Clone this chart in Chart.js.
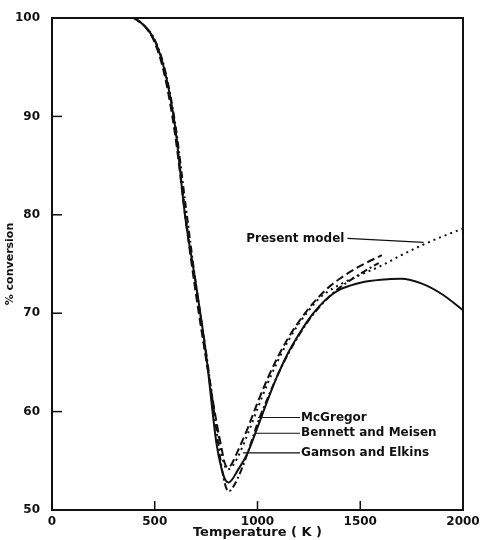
<!DOCTYPE html>
<html>
<head>
<meta charset="utf-8">
<script src="https://cdn.jsdelivr.net/npm/chart.js@4.4.1/dist/chart.umd.min.js"></script>
<style>
html, body { margin: 0; padding: 0; background: #fff; }
#wrap { width: 481px; height: 540px; position: relative; }
</style>
</head>
<body>
<div id="wrap"><canvas id="convChart"></canvas></div>
<script>
// temperature (K) and % conversion
const presentT = [400, 450, 500, 550, 600, 650, 700, 750, 800, 825, 840, 855, 875, 900, 950, 1000, 1050, 1100, 1150, 1200, 1250, 1300, 1350, 1400, 1500, 1600, 1700, 1800, 1900, 2000];
const presentY = [100, 99.2, 97.6, 94.3, 88.5, 80.0, 72.3, 65.5, 58.8, 55.8, 54.5, 54.1, 54.4, 55.2, 57.6, 60.3, 62.9, 65.2, 67.2, 68.9, 70.3, 71.5, 72.3, 72.9, 73.9, 74.8, 75.9, 76.9, 77.8, 78.6];

const mcgregorT = [400, 450, 500, 550, 600, 650, 700, 750, 800, 825, 845, 860, 880, 920, 960, 1000, 1050, 1100, 1150, 1200, 1250, 1300, 1350, 1400, 1500, 1590];
const mcgregorY = [100, 99.2, 97.8, 94.7, 89.2, 81.0, 73.0, 66.0, 58.2, 54.4, 52.4, 51.9, 52.3, 54.0, 56.3, 58.8, 61.4, 63.8, 65.9, 67.7, 69.3, 70.6, 71.7, 72.6, 74.0, 75.1];

const bennettT = [400, 450, 500, 550, 600, 650, 700, 750, 800, 825, 845, 860, 880, 900, 950, 1000, 1050, 1100, 1150, 1200, 1250, 1300, 1350, 1400, 1450, 1500, 1600, 1700, 1800, 1900, 2000];
const bennettY = [100, 99.2, 97.7, 94.5, 88.8, 79.5, 73.0, 65.8, 56.8, 54.2, 53.0, 52.8, 53.2, 53.9, 55.7, 58.4, 61.2, 63.8, 66.0, 67.8, 69.4, 70.7, 71.7, 72.4, 72.8, 73.1, 73.4, 73.5, 73.0, 71.9, 70.3];

const gamsonT = [400, 450, 500, 550, 600, 650, 700, 750, 800, 825, 840, 855, 872, 900, 950, 1000, 1050, 1100, 1150, 1200, 1250, 1300, 1350, 1400, 1500, 1605];
const gamsonY = [100, 99.2, 97.5, 94.0, 88.0, 79.6, 72.0, 65.3, 59.0, 56.3, 54.8, 54.3, 54.6, 55.8, 58.2, 60.9, 63.4, 65.6, 67.5, 69.1, 70.5, 71.7, 72.7, 73.5, 74.8, 75.9];

const seriesNames = ['Present model', 'McGregor', 'Bennett and Meisen', 'Gamson and Elkins'];
const xTicks = [0, 500, 1000, 1500, 2000];
const yTicks = [50, 60, 70, 80, 90, 100];

// callout labels: text start (K, %) and pointer end on the curve
const calloutText = ['Present model', 'McGregor', 'Bennett and Meisen', 'Gamson and Elkins'];
const calloutAt = [[945, 77.6], [1212, 59.4], [1212, 57.8], [1212, 55.8]];
const calloutTo = [[1808, 77.2], [1002, 59.4], [988, 57.8], [929, 55.8]];

function pts(t, v) {
    return t.map((k, i) => ({ x: k, y: v[i] }));
}

const FONT = 'DejaVu Sans';

const framePlugin = {
    id: 'frame',
    afterDatasetsDraw(chart) {
        const ctx = chart.ctx;
        const a = chart.chartArea;
        const xs = chart.scales.x;
        const ys = chart.scales.y;
        ctx.save();
        ctx.strokeStyle = '#111';
        ctx.lineWidth = 2;
        ctx.strokeRect(a.left, a.top, a.right - a.left, a.bottom - a.top);

        // inward tick marks
        ctx.lineWidth = 1.5;
        xTicks.slice(1, -1).forEach(v => {
            const px = xs.getPixelForValue(v);
            ctx.beginPath();
            ctx.moveTo(px, a.bottom);
            ctx.lineTo(px, a.bottom - 9);
            ctx.stroke();
        });
        yTicks.slice(1, -1).forEach(v => {
            const py = ys.getPixelForValue(v);
            ctx.beginPath();
            ctx.moveTo(a.left, py);
            ctx.lineTo(a.left + 10, py);
            ctx.stroke();
        });

        // callouts
        ctx.font = 'bold 12px "' + FONT + '"';
        ctx.fillStyle = '#111';
        ctx.textBaseline = 'middle';
        ctx.lineWidth = 1.2;
        calloutText.forEach((txt, i) => {
            const tx = xs.getPixelForValue(calloutAt[i][0]);
            const ty = ys.getPixelForValue(calloutAt[i][1]);
            const ex = xs.getPixelForValue(calloutTo[i][0]);
            const ey = ys.getPixelForValue(calloutTo[i][1]);
            const w = ctx.measureText(txt).width;
            ctx.fillText(txt, tx, ty);
            ctx.beginPath();
            if (ex > tx) {
                ctx.moveTo(tx + w + 3, ty);
            } else {
                ctx.moveTo(tx - 1, ty);
            }
            ctx.lineTo(ex, ey);
            ctx.stroke();
        });
        ctx.restore();
    }
};

const common = {
    borderColor: '#111',
    pointRadius: 0,
    fill: false,
    cubicInterpolationMode: 'monotone'
};

new Chart(document.getElementById('convChart'), {
    type: 'line',
    data: {
        datasets: [
            Object.assign({ label: seriesNames[0], data: pts(presentT, presentY), borderWidth: 2, borderDash: [2, 4] }, common),
            Object.assign({ label: seriesNames[1], data: pts(mcgregorT, mcgregorY), borderWidth: 2, borderDash: [7, 3, 2, 3] }, common),
            Object.assign({ label: seriesNames[2], data: pts(bennettT, bennettY), borderWidth: 2 }, common),
            Object.assign({ label: seriesNames[3], data: pts(gamsonT, gamsonY), borderWidth: 2, borderDash: [8, 4] }, common)
        ]
    },
    options: {
        responsive: true,
        maintainAspectRatio: false,
        animation: false,
        layout: { padding: { top: 18, right: 18, left: 0, bottom: 0 } },
        plugins: {
            legend: { display: false },
            tooltip: { enabled: false }
        },
        scales: {
            x: {
                type: 'linear',
                min: 0,
                max: 2000,
                afterBuildTicks: s => { s.ticks = xTicks.map(v => ({ value: v })); },
                afterFit: s => { s.height = 30; },
                grid: { display: false },
                border: { display: false },
                ticks: { color: '#111', padding: -3, maxRotation: 0, callback: v => String(v), font: { family: FONT, size: 12, weight: 'bold' } },
                title: { display: true, text: 'Temperature ( K )', color: '#111', padding: { top: 0, bottom: 0 }, font: { family: FONT, size: 13, weight: 'bold' } }
            },
            y: {
                min: 50,
                max: 100,
                afterBuildTicks: s => { s.ticks = yTicks.map(v => ({ value: v })); },
                afterFit: s => { s.width = 52; },
                grid: { display: false },
                border: { display: false },
                ticks: { color: '#111', padding: 4, callback: v => String(v), font: { family: FONT, size: 12, weight: 'bold' } },
                title: { display: true, text: '% conversion', color: '#111', padding: { top: 4, bottom: 0 }, font: { family: FONT, size: 11, weight: 'bold' } }
            }
        }
    },
    plugins: [framePlugin]
});
</script>
</body>
</html>
